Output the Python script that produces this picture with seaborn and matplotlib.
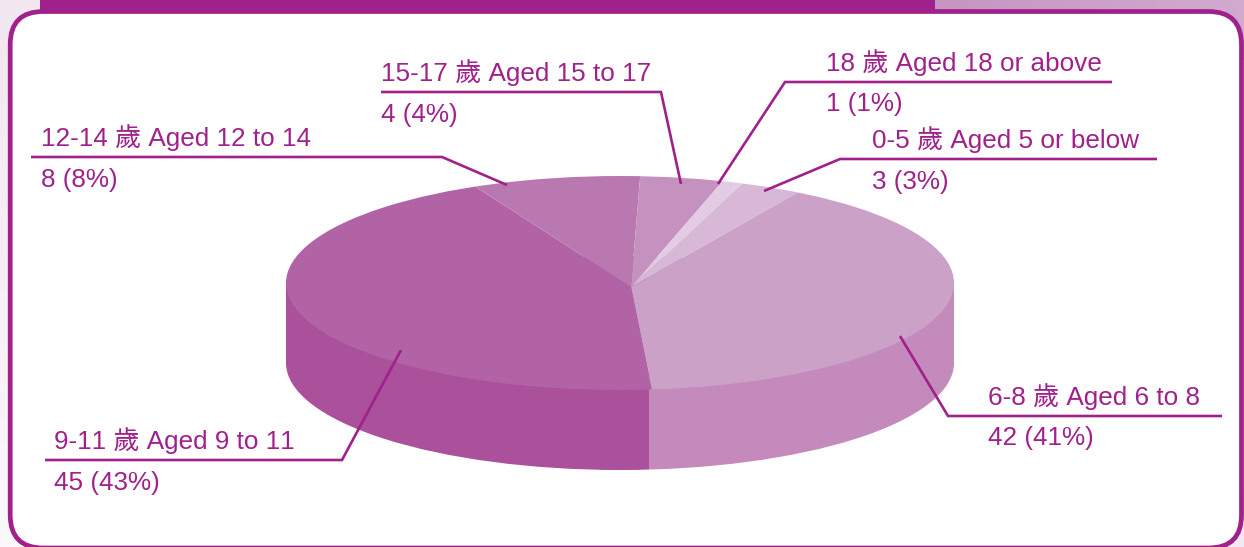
import matplotlib

matplotlib.use("Agg")
import matplotlib.pyplot as plt
import numpy as np
import seaborn as sns
from matplotlib.colors import to_rgb
from matplotlib.patches import Ellipse, FancyBboxPatch, Rectangle

# data, clockwise from the top right
ages_zh = ["0-5 歲", "6-8 歲", "9-11 歲", "12-14 歲", "15-17 歲", "18 歲"]
ages_en = ["Aged 5 or below", "Aged 6 to 8", "Aged 9 to 11", "Aged 12 to 14", "Aged 15 to 17", "Aged 18 or above"]
counts = [3, 42, 45, 8, 4, 1]
percents = [3, 41, 43, 8, 4, 1]
colors = ["#D8B8D7", "#CBA1C7", "#B263A6", "#BA78B0", "#C592BF", "#E3CBE3"]

PURPLE = "#A0218B"
W, H = 1244, 547

# label x, name y, value y, then the leader line, all in pixels
label_x = [872, 988, 54, 41, 381, 826]
name_y = [140, 397, 441, 138, 73, 63]
value_y = [182, 438, 483, 180, 115, 104]
leaders = [
    [(1157, 159), (840, 159), (764, 191)],
    [(1222, 416), (948, 416), (900, 336)],
    [(45, 460), (342, 460), (401, 350)],
    [(31, 157), (442, 157), (507, 185)],
    [(381, 92), (661, 92), (681, 184)],
    [(1112, 82), (785, 82), (718, 184)],
]

# pie ellipse in pixels
CX, CY, RX, RY = 620, 283, 334, 107
APEX_X, APEX_Y = 631, 287
DEPTH = 80
SPLIT_X = 649

sns.set_theme(style="white")
plt.rcParams["font.family"] = ["Liberation Sans", "Noto Sans CJK TC", "DejaVu Sans"]
plt.rcParams["text.kerning_factor"] = 6

fig = plt.figure(figsize=(W / 100, H / 100), dpi=100, facecolor="white")


def pixel_axes(zorder):
    ax = fig.add_axes([0, 0, 1, 1], zorder=zorder)
    ax.set_xlim(0, W)
    ax.set_ylim(H, 0)
    ax.axis("off")
    return ax


def gradient(ax, extent, start, end, horizontal=True):
    ramp = np.linspace(to_rgb(start), to_rgb(end), 64)
    img = ramp[None, :, :] if horizontal else ramp[:, None, :]
    ax.imshow(img, extent=extent, aspect="auto", zorder=1)


# frame
ax_bg = pixel_axes(0)
gradient(ax_bg, (0, 40, 547, 0), "#F3E7F2", "#FBF8FB", horizontal=False)
gradient(ax_bg, (935, 1244, 60, 0), "#C695C2", "#D2AACF")
ax_bg.add_patch(Rectangle((1190, 490), 54, 57, fc="#F3E8F3", ec="none", zorder=1))
ax_bg.set_xlim(0, W)
ax_bg.set_ylim(H, 0)
ax_bg.add_patch(Rectangle((40, 0), 895, 13, fc=PURPLE, ec="none", zorder=2))
ax_bg.add_patch(
    FancyBboxPatch(
        (10.2, 11.5), 1231.3, 536.5, boxstyle="round,pad=0,rounding_size=33",
        fc="white", ec=PURPLE, lw=3.4, zorder=3,
    )
)

# pie, one unit is the ellipse radius so a circle shows as the ellipse
ax_pie = fig.add_axes([0, 0, 1, 1], zorder=1)
ax_pie.patch.set_visible(False)
apex = ((APEX_X - CX) / RX, (CY - APEX_Y) / RY)
drop = DEPTH / RY
split = (SPLIT_X - CX) / RX

# side of the cylinder
for x0, x1, color in [(-1, split, "#AB509A"), (split, 1, "#C48ABC")]:
    clip = Rectangle((x0, -2.5), x1 - x0, 4, fc="none", ec="none")
    ax_pie.add_patch(clip)
    bottom = Ellipse((0, -drop), 2, 2, fc=color, ec="none", zorder=1)
    ax_pie.add_patch(bottom)
    bottom.set_clip_path(clip)
    ax_pie.add_patch(Rectangle((x0, -drop), x1 - x0, drop, fc=color, ec="none", zorder=1))

# top face, wedges start at the offset apex and are cut by the ellipse
wedges, _ = ax_pie.pie(
    counts, colors=colors, startangle=71, counterclock=False,
    center=apex, radius=1.6, wedgeprops={"linewidth": 0, "zorder": 2},
)
rim = Ellipse((0, 0), 2, 2, fc="none", ec="none")
ax_pie.add_patch(rim)
for wedge in wedges:
    wedge.set_clip_on(True)
    wedge.set_clip_path(rim)
ax_pie.set_aspect("auto")
ax_pie.set_xlim(-CX / RX, (W - CX) / RX)
ax_pie.set_ylim((CY - H) / RY, CY / RY)
ax_pie.axis("off")

# labels and leader lines
ax = pixel_axes(2)
ax.patch.set_visible(False)
for i in range(len(counts)):
    xs, ys = zip(*leaders[i])
    ax.plot(xs, ys, color=PURPLE, lw=1.9, solid_joinstyle="miter", solid_capstyle="butt")
    ax.text(label_x[i], name_y[i], f"{ages_zh[i]} {ages_en[i]}", color=PURPLE, fontsize=18.8, va="center")
    ax.text(label_x[i], value_y[i], f"{counts[i]} ({percents[i]}%)", color=PURPLE, fontsize=18.8, va="center")

fig.savefig("out.png", dpi=100)
plt.close(fig)
